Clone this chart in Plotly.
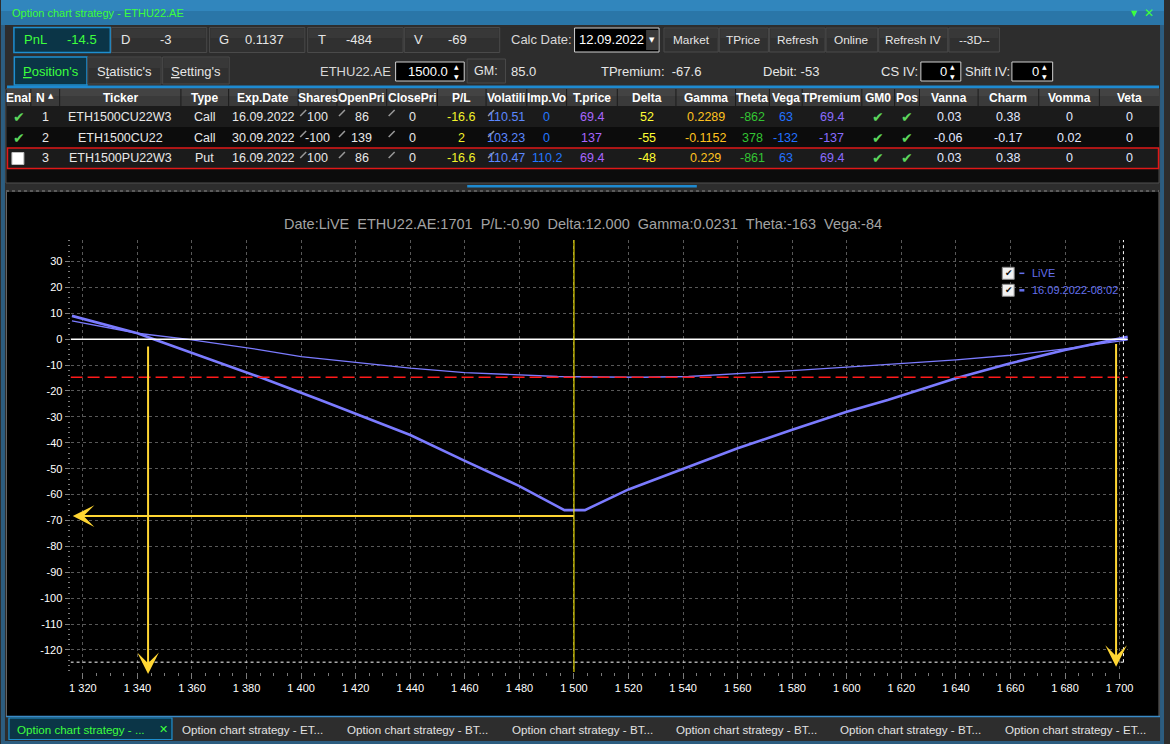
import plotly.graph_objects as go

W, H = 1170, 744
FONT = "Liberation Sans, Arial, sans-serif"

# ---------------- chart data ----------------
PRICE_EXPIRY = [1316, 1340, 1346, 1376, 1385, 1407, 1420, 1440, 1460, 1480, 1496.5,
                1504, 1520, 1540, 1560, 1580, 1600, 1615, 1640, 1660, 1680, 1703]
PNL_EXPIRY = [9.0, 2.3, 0.0, -11.5, -14.7, -23.5, -28.7, -37.0, -47.0, -56.7, -66.0,
              -66.0, -58.0, -50.1, -42.1, -35.0, -28.0, -23.5, -15.1, -9.3, -4.2, 0.9]
PRICE_LIVE = [1316, 1340, 1358, 1385, 1400, 1420, 1440, 1460, 1480, 1494, 1510,
              1525, 1542, 1560, 1580, 1600, 1620, 1640, 1660, 1680, 1703]
PNL_LIVE = [7.1, 2.3, 0.0, -4.1, -6.7, -9.0, -11.2, -12.9, -13.9, -14.4, -14.6,
            -14.7, -14.4, -13.4, -12.1, -10.8, -9.5, -8.0, -6.2, -3.7, -0.3]
MAX_LOSS_LEVEL = -14.7
STRIKE = 1500
SPOT = 1701.4
BREAKEVEN_LOW = 1343.9
BREAKEVEN_HIGH = 1698.7
MIN_MARK_LEVEL = -68.3
CURSOR_LEVEL = -124.7

X_TICK_VALS = [1320, 1340, 1360, 1380, 1400, 1420, 1440, 1460, 1480, 1500,
               1520, 1540, 1560, 1580, 1600, 1620, 1640, 1660, 1680, 1700]
X_TICK_TEXT = ["1 320", "1 340", "1 360", "1 380", "1 400", "1 420", "1 440", "1 460",
               "1 480", "1 500", "1 520", "1 540", "1 560", "1 580", "1 600", "1 620",
               "1 640", "1 660", "1 680", "1 700"]
Y_TICK_VALS = [-120, -110, -100, -90, -80, -70, -60, -50, -40, -30, -20, -10, 0, 10, 20, 30]
Y_TICK_TEXT = ["-120", "-110", "-100", "-90", "-80", "-70", "-60", "-50", "-40", "-30",
               "-20", "-10", "0", "10", "20", "30"]

CHART_TITLE = ["Date:LiVE", "ETHU22.AE:1701", "P/L:-0.90", "Delta:12.000",
               "Gamma:0.0231", "Theta:-163", "Vega:-84"]
LEGEND_NAMES = ["LiVE", "16.09.2022-08:02"]

# ---------------- panel data ----------------
WINDOW_TITLE = "Option chart strategy - ETHU22.AE"
STAT_LABELS = ["PnL", "D", "G", "T", "V"]
STAT_VALUES = ["-14.5", "-3", "0.1137", "-484", "-69"]
CALC_DATE = "12.09.2022"
BUTTONS = ["Market", "TPrice", "Refresh", "Online", "Refresh IV", "--3D--"]
TABS = ["<u>P</u>osition's", "S<u>t</u>atistic's", "<u>S</u>etting's"]
UNDERLYING = "ETHU22.AE"
UNDERLYING_PRICE = "1500.0"
GM_VALUE = "85.0"
TPREMIUM = "-67.6"
DEBIT = "-53"
CS_IV = "0"
SHIFT_IV = "0"

COLUMNS = ["Enal", "N", "Ticker", "Type", "Exp.Date", "Shares", "OpenPri", "ClosePri",
           "P/L", "Volatili", "Imp.Vo", "T.price", "Delta", "Gamma", "Theta", "Vega",
           "TPremium", "GM0", "Pos", "Vanna", "Charm", "Vomma", "Veta"]
ENABLED = [True, True, False]
ROW_N = [1, 2, 3]
TICKER = ["ETH1500CU22W3", "ETH1500CU22", "ETH1500PU22W3"]
OPT_TYPE = ["Call", "Call", "Put"]
EXP_DATE = ["16.09.2022", "30.09.2022", "16.09.2022"]
SHARES = [100, -100, 100]
OPEN_PRICE = [86, 139, 86]
CLOSE_PRICE = [0, 0, 0]
PL = [-16.6, 2, -16.6]
VOLATILITY = [110.51, 103.23, 110.47]
IMP_VOL = [0, 0, 110.2]
T_PRICE = [69.4, 137, 69.4]
DELTA = [52, -55, -48]
GAMMA = [0.2289, -0.1152, 0.229]
THETA = [-862, 378, -861]
VEGA = [63, -132, 63]
T_PREMIUM = [69.4, -137, 69.4]
GM0 = [True, True, True]
POS = [True, True, True]
VANNA = [0.03, -0.06, 0.03]
CHARM = [0.38, -0.17, 0.38]
VOMMA = [0, 0.02, 0]
VETA = [0, 0, 0]

BOTTOM_TABS = ["Option chart strategy - ...", "Option chart strategy - ET...",
               "Option chart strategy - BT...", "Option chart strategy - BT...",
               "Option chart strategy - BT...", "Option chart strategy - BT...",
               "Option chart strategy - ET..."]

# ---------------- helpers (pixel coordinates) ----------------
shapes = []
anns = []


def prect(x0, y0, x1, y1, fill, line=None, lw=1, layer="above"):
    shapes.append(dict(type="rect", xref="paper", yref="paper",
                       x0=x0 / W, x1=x1 / W, y0=1 - y1 / H, y1=1 - y0 / H,
                       fillcolor=fill, layer=layer,
                       line=dict(width=0) if line is None else dict(color=line, width=lw)))


def pline(x0, y0, x1, y1, color, lw=1, dash="solid", layer="above"):
    shapes.append(dict(type="line", xref="paper", yref="paper",
                       x0=x0 / W, x1=x1 / W, y0=1 - y0 / H, y1=1 - y1 / H,
                       line=dict(color=color, width=lw, dash=dash), layer=layer))


def ptext(x, y, s, size=13, color="#e6e6e6", anchor="center", family=FONT):
    anns.append(dict(xref="paper", yref="paper", x=x / W, y=1 - y / H, text=s,
                     showarrow=False, xanchor=anchor, yanchor="middle", borderpad=0,
                     font=dict(size=size, color=color, family=family)))


def fmt(v):
    return f"{v:g}"


GREEN = "#3dff3d"
TEAL_FILL = "#0b3547"
TEAL_LINE = "#1e8fd0"
BTN_FILL = "#303030"
BTN_LINE = "#4a4a4a"
CHECK = "#5cd65c"

# ---------------- window frame ----------------
prect(0, 0, W, 25, "#2a76a8")
prect(0, 0, W, 11, "#3186bd")
prect(0, 25, 4, H, "#2c5d80")
prect(1166, 25, W, H, "#2c5d80")
prect(0, 741, W, H, "#2c5d80")
ptext(10, 13, WINDOW_TITLE, 11, GREEN, "left")
ptext(1140, 14, "▼", 8, GREEN, family="DejaVu Sans")
ptext(1155, 13, "✕", 12, GREEN, family="DejaVu Sans")

# ---------------- row 1: stats + buttons ----------------
stat_x = [13, 111, 209.7, 308.5, 405.7]
stat_val_off = [52, 48, 35, 38, 42.5]
for i, (lab, val) in enumerate(zip(STAT_LABELS, STAT_VALUES)):
    x0 = stat_x[i]
    if i == 0:
        prect(x0, 27.5, x0 + 97, 52.5, TEAL_FILL, TEAL_LINE, 1.5)
        col = GREEN
    else:
        prect(x0, 27.5, x0 + 96, 52.5, BTN_FILL, BTN_LINE, 1)
        prect(x0 + 1, 28.5, x0 + 95, 38, "#383838")
        col = "#e6e6e6"
    ptext(x0 + 9, 40, lab, 13, col, "left")
    ptext(x0 + stat_val_off[i], 40, val, 13, col, "left")

ptext(512, 40, "Calc Date:", 13, "#d8d8d8", "left")
prect(577, 28, 662, 52, "#000000", "#cfcfcf", 1)
prect(649, 30, 661, 50, "#3a3a3a")
ptext(655, 40, "▼", 7, "#ffffff", family="DejaVu Sans")
ptext(580, 40, CALC_DATE, 13, "#ffffff", "left")

btn_bounds = [(667, 721.5), (722.6, 772), (773, 829), (830, 882), (883, 952.5), (953.6, 1004.4)]
for (a, b), name in zip(btn_bounds, BUTTONS):
    prect(a, 28, b, 52, BTN_FILL, BTN_LINE, 1)
    prect(a + 1, 29, b - 1, 38, "#383838")
    ptext((a + b) / 2, 40, name, 11.8, "#e6e6e6")

# ---------------- row 2: tabs + inputs ----------------
tab_bounds = [(13.4, 86.5), (87.3, 161), (162.6, 229.6)]
for i, ((a, b), name) in enumerate(zip(tab_bounds, TABS)):
    if i == 0:
        prect(a, 57, b, 85, TEAL_FILL, TEAL_LINE, 1.5)
        ptext((a + b) / 2, 71, name, 13, GREEN)
    else:
        prect(a, 57, b, 84, BTN_FILL, BTN_LINE, 1)
        prect(a + 1, 58, b - 1, 68, "#383838")
        ptext((a + b) / 2, 71, name, 13, "#e6e6e6")

ptext(357, 71, UNDERLYING, 13, "#d8d8d8")


def spinbox(a, b, val, text_right):
    prect(a, 62, b, 81, "#000000", "#cfcfcf", 1)
    ptext(text_right, 71.5, val, 13, "#ffffff", "right")
    ptext(b - 8, 66.5, "▲", 6, "#ffffff", family="DejaVu Sans")
    ptext(b - 8, 76, "▼", 6, "#ffffff", family="DejaVu Sans")


spinbox(397, 466, UNDERLYING_PRICE, 451)
prect(469, 59, 507.5, 83, BTN_FILL, BTN_LINE, 1)
ptext(488, 71, "GM:", 12.5, "#e6e6e6")
ptext(512, 71, GM_VALUE, 13, "#e6e6e6", "left")
ptext(603, 71, "TPremium:  " + TPREMIUM, 13, "#e6e6e6", "left")
ptext(766, 71, "Debit: " + DEBIT, 13, "#e6e6e6", "left")
ptext(884.7, 71, "CS IV:", 13, "#e6e6e6", "left")
spinbox(925.4, 965.6, CS_IV, 953)
ptext(969, 71, "Shift IV:", 13, "#e6e6e6", "left")
spinbox(1017, 1058, SHIFT_IV, 1045)

prect(6, 85.5, 1165, 88.5, "#1e8ad0")

# ---------------- table ----------------
COL_EDGES = [6, 30, 59, 181, 229, 299, 338, 388, 439, 488, 529, 569, 620, 679, 739,
             773, 806, 866, 899, 924, 983, 1044, 1105, 1165]
prect(5, 89, 1165, 183, "#0c0c0c", "#505050", 1)
prect(6, 89, 1165, 106, "#3a3a3a")
prect(6, 89, 1165, 96, "#434343")
for e in COL_EDGES[1:-1]:
    pline(e, 89, e, 106, "#1c1c1c", 1)
centers = [(COL_EDGES[i] + COL_EDGES[i + 1]) / 2 for i in range(len(COLUMNS))]
for i, name in enumerate(COLUMNS):
    if name == "N":
        ptext(centers[i] - 5, 97.5, "<b>N</b>", 12, "#ffffff")
        ptext(centers[i] + 6, 96.5, "▲", 7, "#ffffff", family="DejaVu Sans")
    else:
        ptext(centers[i], 97.5, "<b>" + name + "</b>", 12, "#ffffff")

row_tops = [106, 127, 148]
row_fill = ["#1b1b1b", "#0c0c0c", "#1b1b1b"]
WHITE_T = "#e8e8e8"
for r in range(3):
    top = row_tops[r]
    prect(6, top, 1165, top + 21, row_fill[r])
    cy = top + 10.5
    cells = [
        None, (fmt(ROW_N[r]), WHITE_T), (TICKER[r], WHITE_T), (OPT_TYPE[r], WHITE_T),
        (EXP_DATE[r], WHITE_T), (fmt(SHARES[r]), WHITE_T), (fmt(OPEN_PRICE[r]), WHITE_T),
        (fmt(CLOSE_PRICE[r]), WHITE_T), (fmt(PL[r]), "#f2f22a"),
        (fmt(VOLATILITY[r]), "#5b88ff"), (fmt(IMP_VOL[r]), "#2277ff"),
        (fmt(T_PRICE[r]), "#a866ff"), (fmt(DELTA[r]), "#ffff33"),
        (fmt(GAMMA[r]), "#ffc21f"), (fmt(THETA[r]), "#33c433"), (fmt(VEGA[r]), "#2272ff"),
        (fmt(T_PREMIUM[r]), "#8a6cff"), None, None,
        (fmt(VANNA[r]), "#e2e8ff"), (fmt(CHARM[r]), "#e2e8ff"),
        (fmt(VOMMA[r]), "#e2e8ff"), (fmt(VETA[r]), "#e2e8ff"),
    ]
    for c, cell in enumerate(cells):
        if cell is not None:
            ptext(centers[c], cy, cell[0], 12.5, cell[1])
    if ENABLED[r]:
        ptext(centers[0], cy, "✔", 14, CHECK, family="DejaVu Sans")
    else:
        prect(11, top + 4.5, 23, top + 16.5, "#ffffff", "#bdbdbd", 1)
    if GM0[r]:
        ptext(centers[17], cy, "✔", 14, CHECK, family="DejaVu Sans")
    if POS[r]:
        ptext(centers[18], cy, "✔", 14, CHECK, family="DejaVu Sans")
    for c in (5, 6, 7, 9):
        e = COL_EDGES[c]
        pline(e + 2, top + 10, e + 8, top + 4, "#9a9a9a", 1.5)
prect(6.5, 148, 1164.5, 168.5, "rgba(0,0,0,0)", "#e01818", 1.5)

prect(469, 185, 700, 187.5, "#1e8ad0")
pline(5, 191, 1165, 191, "#8a8a8a", 1, "dot")

# ---------------- chart panel ----------------
prect(5, 192, 1165, 716, "#000000", layer="below")
pline(5.5, 192, 5.5, 716, "#6a6a6a", 1)
pline(1165, 192, 1165, 716, "#6a6a6a", 1)

prect(5, 716, 1166, 741, "#2d2d2d")
pline(5, 716.5, 1166, 716.5, "#3a8bc8", 1.5)
prect(8, 718, 172, 739.5, TEAL_FILL, TEAL_LINE, 1.2)
tab_starts = [15, 181, 347, 512.8, 678, 843.4, 1009.3]
for i, (x, name) in enumerate(zip(tab_starts, BOTTOM_TABS)):
    ptext(x, 729, name, 11.6, GREEN if i == 0 else "#e2e2e2", "left")
ptext(163, 729, "✕", 11, GREEN, family="DejaVu Sans")

ptext(585.5, 224, "\u00a0\u00a0".join(CHART_TITLE), 14.5, "#a3a3a3")

LEG_BLUE = "#6470ee"
for i, name in enumerate(LEGEND_NAMES):
    cy = 273.3 + 17 * i
    prect(1007.3, cy - 6, 1019.3, cy + 6, "#f2f2f2", "#8a8a8a", 1)
    ptext(1013.6, cy, "✔", 9, "#111111", family="DejaVu Sans")
    pline(1024.5, cy, 1029.5, cy, LEG_BLUE, 1.5 if i == 0 else 2.5)
    ptext(1036, cy, name, 11, LEG_BLUE, "left")

# ---------------- plot ----------------
X_RANGE = [1315.5, 1703.0]
Y_RANGE = [-128.5, 38.3]
PX_L, PX_R, PX_T, PX_B = 70.0, 1133.6, 240.0, 672.0

fig = go.Figure()
fig.add_trace(go.Scatter(x=PRICE_EXPIRY, y=PNL_EXPIRY, mode="lines", name=LEGEND_NAMES[1],
                         line=dict(color="#7b7bff", width=2.6), hoverinfo="skip"))
fig.add_trace(go.Scatter(x=PRICE_LIVE, y=PNL_LIVE, mode="lines", name=LEGEND_NAMES[0],
                         line=dict(color="#7b7bff", width=1.3), hoverinfo="skip"))

YEL = "#ffd633"
shapes.append(dict(type="line", xref="x", yref="y", x0=X_RANGE[0], x1=X_RANGE[1], y0=0, y1=0,
                   line=dict(color="#ffffff", width=1.4), layer="above"))
shapes.append(dict(type="line", xref="x", yref="y", x0=X_RANGE[0], x1=X_RANGE[1],
                   y0=MAX_LOSS_LEVEL, y1=MAX_LOSS_LEVEL,
                   line=dict(color="#ff1a1a", width=1.4, dash="12px,5px"), layer="above"))
shapes.append(dict(type="line", xref="x", yref="y", x0=STRIKE, x1=STRIKE,
                   y0=Y_RANGE[0], y1=Y_RANGE[1],
                   line=dict(color="#f7e800", width=1.1), layer="above"))
shapes.append(dict(type="line", xref="x", yref="y", x0=SPOT, x1=SPOT,
                   y0=CURSOR_LEVEL, y1=Y_RANGE[1],
                   line=dict(color="#ffffff", width=1, dash="dot"), layer="above"))
shapes.append(dict(type="line", xref="x", yref="y", x0=X_RANGE[0], x1=SPOT + 0.5,
                   y0=CURSOR_LEVEL, y1=CURSOR_LEVEL,
                   line=dict(color="#ffffff", width=1, dash="dot"), layer="above"))

arrow_common = dict(xref="x", yref="y", axref="x", ayref="y", text="", showarrow=True,
                    arrowhead=3, arrowsize=1.8, arrowwidth=2, arrowcolor=YEL)
anns.append(dict(x=X_RANGE[0] + 0.8, y=MIN_MARK_LEVEL, ax=STRIKE + 0.5, ay=MIN_MARK_LEVEL,
                 **arrow_common))
anns.append(dict(x=BREAKEVEN_LOW, y=-129.3, ax=BREAKEVEN_LOW, ay=-2.2, **arrow_common))
anns.append(dict(x=BREAKEVEN_HIGH, y=-126.5, ax=BREAKEVEN_HIGH, ay=-1.3, **arrow_common))

GRID = "#585858"
fig.update_layout(
    width=W, height=H, autosize=False,
    margin=dict(l=0, r=0, t=0, b=0, pad=0),
    paper_bgcolor="#2d2d2d", plot_bgcolor="#000000",
    showlegend=False,
    font=dict(family=FONT, color="#ffffff"),
    xaxis=dict(domain=[PX_L / W, PX_R / W], range=X_RANGE, tickmode="array",
               tickvals=X_TICK_VALS, ticktext=X_TICK_TEXT, ticks="outside", ticklen=6,
               tickcolor="#7a7a7a", tickwidth=1,
               tickfont=dict(size=11, color="#ffffff", family=FONT),
               showgrid=True, gridcolor=GRID, griddash="3px,3px", gridwidth=1,
               zeroline=False, showline=False, fixedrange=True,
               minor=dict(tickmode="linear", tick0=0, dtick=5, ticks="outside", ticklen=3,
                          tickcolor="#7a7a7a", showgrid=False)),
    yaxis=dict(domain=[1 - PX_B / H, 1 - PX_T / H], range=Y_RANGE, tickmode="array",
               tickvals=Y_TICK_VALS, ticktext=Y_TICK_TEXT, ticks="outside", ticklen=5,
               tickcolor="#7a7a7a", tickwidth=1,
               tickfont=dict(size=11, color="#ffffff", family=FONT),
               showgrid=True, gridcolor=GRID, griddash="3px,3px", gridwidth=1,
               zeroline=False, showline=False, fixedrange=True,
               minor=dict(tickmode="linear", tick0=0, dtick=2, ticks="outside", ticklen=2,
                          tickcolor="#7a7a7a", showgrid=False)),
    shapes=shapes,
    annotations=anns,
)

fig.write_html("out.html", config={"displayModeBar": False},
               post_script="document.body.style.margin='0';"
                           "document.body.style.overflow='hidden';")
